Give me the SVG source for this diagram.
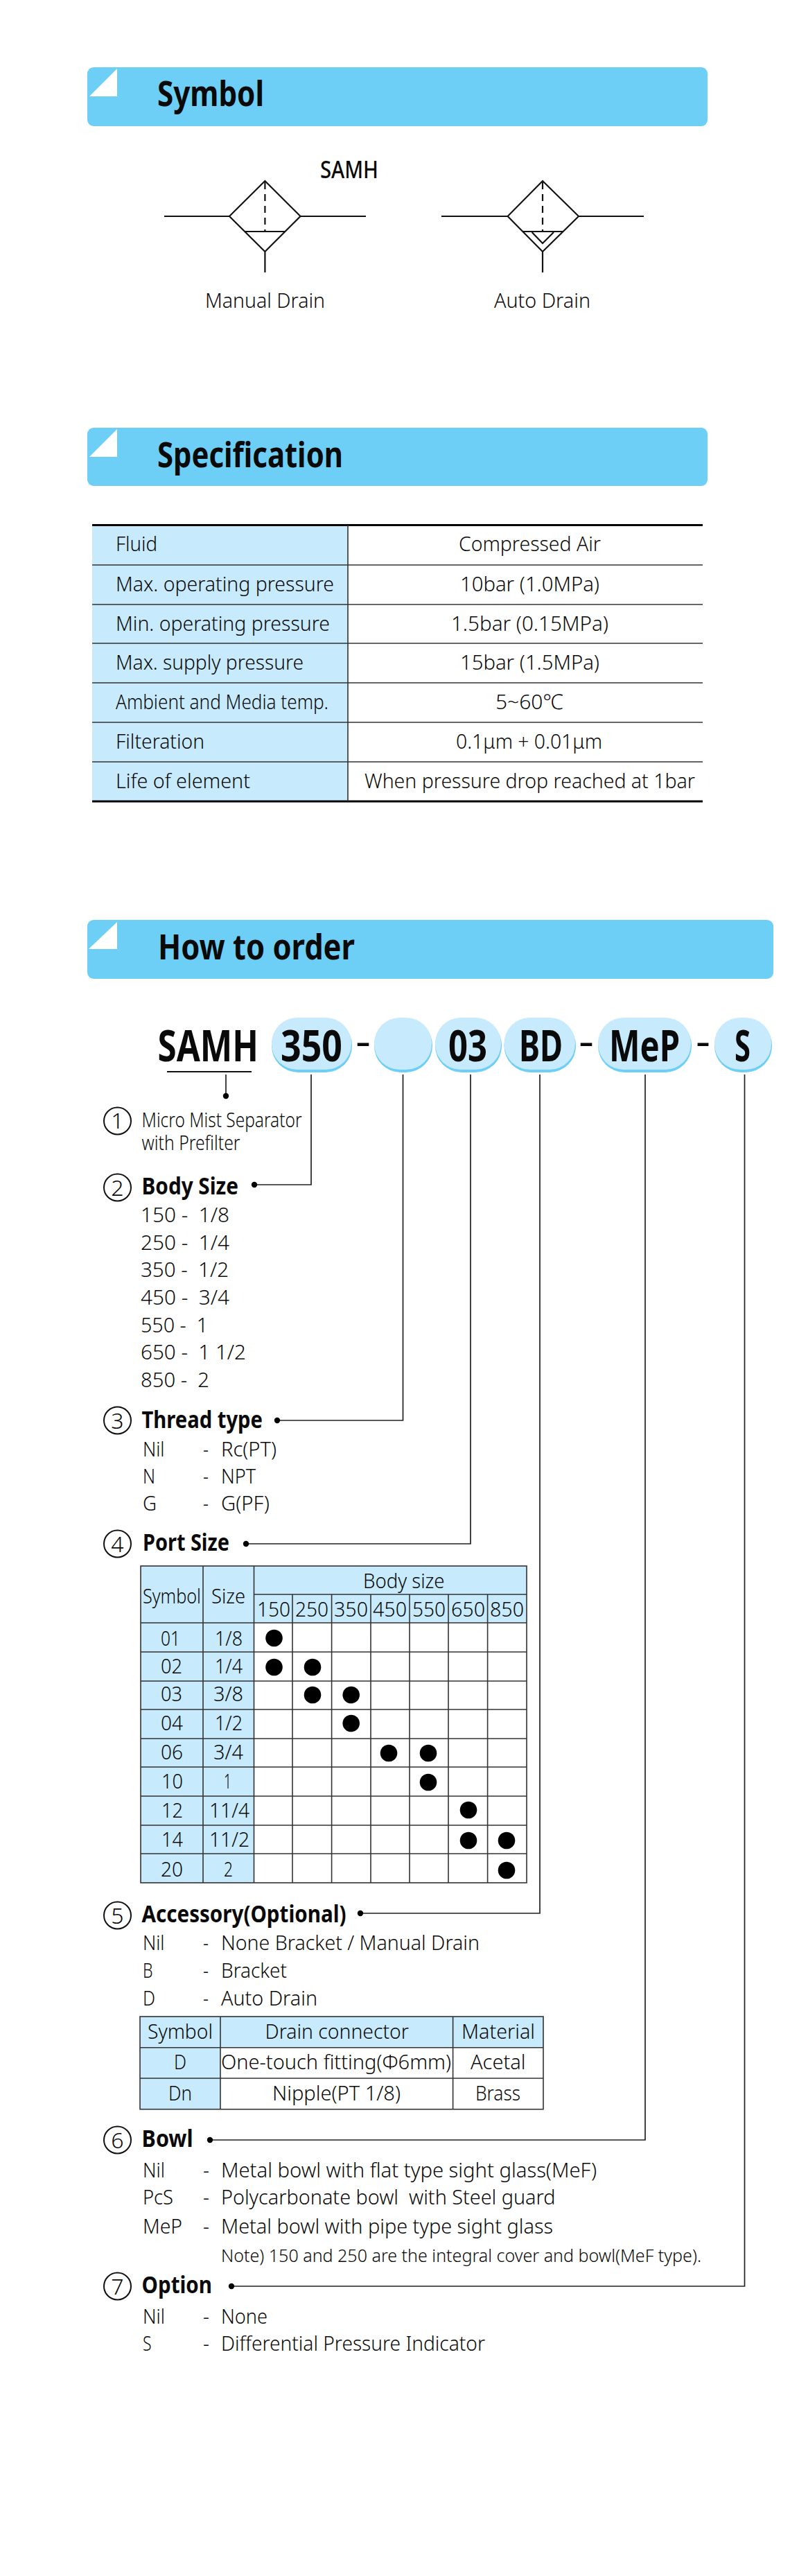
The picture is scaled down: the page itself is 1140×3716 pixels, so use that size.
<svg xmlns="http://www.w3.org/2000/svg" width="1140" height="3716" viewBox="0 0 1140 3716">
<style>
text{font-family:"Noto Sans","Open Sans","Liberation Sans",sans-serif;fill:#0a0a0a}
.b{font-size:30px;font-weight:300}
.s{font-size:26px;font-weight:300}
.h{font-size:34px;font-weight:700}
.t{font-size:51px;font-weight:700}
.c{font-size:62px;font-weight:700}
.d{font-size:59px;font-weight:400}
.n{font-size:30px;font-weight:300;text-anchor:middle}
.r{font-size:32px;font-weight:300;text-anchor:middle}
.band{fill:#6dcff6}
.fold{fill:#fff}
.sym{fill:none;stroke:#111;stroke-width:2.2}
.ring{fill:none;stroke:#111;stroke-width:2}
.conn{fill:none;stroke:#222;stroke-width:1.7}
.dot{fill:#000}
.lt{fill:#c7eafd}
.dk{fill:#6dcff6}
.grid{fill:none;stroke:#333;stroke-width:1.6}
.rule{stroke:#333;stroke-width:1.6}
</style>

<g id="header-symbol">
<rect class="band" x="126" y="97" width="895" height="85" rx="9"/>
<polygon class="fold" points="169,99 129,139 169,139"/>
<text class="t" x="227" y="153" textLength="154" lengthAdjust="spacingAndGlyphs">Symbol</text>
</g>
<g id="symbol-samh"><text x="462" y="257" font-size="34" font-weight="500" textLength="84" lengthAdjust="spacingAndGlyphs">SAMH</text></g>
<g id="symbol-manual">
<path class="sym" d="M237 312H331L382.4 261 433.5 312H528M331 312L382.4 363 433.5 312M354 334H412M382.4 363V393"/>
<path class="sym" d="M382.4 263V333" stroke-dasharray="10 7"/>
<text class="b" x="296" y="444" textLength="173" lengthAdjust="spacingAndGlyphs">Manual Drain</text>
</g>
<g id="symbol-auto">
<path class="sym" d="M637 312H732.6L783 261 835 312H929M732.6 312L783 363 835 312M754 334H812M783 363V393M767.6 335L783 351 799 335"/>
<path class="sym" d="M783 263V333" stroke-dasharray="10 7"/>
<text class="b" x="713" y="444" textLength="139" lengthAdjust="spacingAndGlyphs">Auto Drain</text>
</g>

<g id="header-specification">
<rect class="band" x="126" y="617" width="895" height="84" rx="9"/>
<polygon class="fold" points="169,619 129,659 169,659"/>
<text class="t" x="227" y="674" textLength="268" lengthAdjust="spacingAndGlyphs">Specification</text>
</g>
<g id="spec-table">
<rect class="lt" x="133" y="758" width="369" height="398"/>
<path d="M133 757.5H1014M133 1156H1014" stroke="#000" stroke-width="3"/>
<path class="rule" d="M133 815H1014M133 872H1014M133 928H1014M133 985H1014M133 1042H1014M133 1099H1014M502 758V1156"/>
<text class="b" x="167" y="795" textLength="60" lengthAdjust="spacingAndGlyphs">Fluid</text>
<text class="b" x="167" y="853" textLength="315" lengthAdjust="spacingAndGlyphs">Max. operating pressure</text>
<text class="b" x="167" y="910" textLength="309" lengthAdjust="spacingAndGlyphs">Min. operating pressure</text>
<text class="b" x="167" y="966" textLength="271" lengthAdjust="spacingAndGlyphs">Max. supply pressure</text>
<text class="b" x="167" y="1023" textLength="307" lengthAdjust="spacingAndGlyphs">Ambient and Media temp.</text>
<text class="b" x="167" y="1080" textLength="128" lengthAdjust="spacingAndGlyphs">Filteration</text>
<text class="b" x="167" y="1137" textLength="194" lengthAdjust="spacingAndGlyphs">Life of element</text>
<text class="b" x="662" y="795" textLength="205" lengthAdjust="spacingAndGlyphs">Compressed Air</text>
<text class="b" x="664" y="853" textLength="201" lengthAdjust="spacingAndGlyphs">10bar (1.0MPa)</text>
<text class="b" x="651" y="910" textLength="227" lengthAdjust="spacingAndGlyphs">1.5bar (0.15MPa)</text>
<text class="b" x="664" y="966" textLength="201" lengthAdjust="spacingAndGlyphs">15bar (1.5MPa)</text>
<text class="b" x="715" y="1023" textLength="98" lengthAdjust="spacingAndGlyphs">5~60℃</text>
<text class="b" x="658" y="1080" textLength="211" lengthAdjust="spacingAndGlyphs">0.1μm + 0.01μm</text>
<text class="b" x="526" y="1137" textLength="477" lengthAdjust="spacingAndGlyphs">When pressure drop reached at 1bar</text>
</g>

<g id="header-order">
<rect class="band" x="126" y="1327" width="990" height="85" rx="9"/>
<polygon class="fold" points="169,1330 128,1369 169,1369"/>
<text class="t" x="228" y="1384" textLength="284" lengthAdjust="spacingAndGlyphs">How to order</text>
</g>

<g id="connectors">
<path class="conn" d="M326 1550V1581"/>
<path class="conn" d="M449 1550V1709H367"/>
<path class="conn" d="M581.5 1550V2049H400"/>
<path class="conn" d="M679 1550V2227H355"/>
<path class="conn" d="M779 1550V2760H520"/>
<path class="conn" d="M931 1550V3087H303"/>
<path class="conn" d="M1074.5 1550V3298H334"/>
<circle class="dot" cx="326" cy="1581" r="4.2"/>
<circle class="dot" cx="367" cy="1709" r="4.2"/>
<circle class="dot" cx="400" cy="2049" r="4.2"/>
<circle class="dot" cx="355" cy="2227" r="4.2"/>
<circle class="dot" cx="520" cy="2760" r="4.2"/>
<circle class="dot" cx="303" cy="3087" r="4.2"/>
<circle class="dot" cx="334" cy="3298" r="4.2"/>
</g>

<g id="code-samh">
<text class="c" x="227.5" y="1531" textLength="145.5" lengthAdjust="spacingAndGlyphs">SAMH</text>
<path d="M241 1546H363" stroke="#111" stroke-width="2"/>
</g>
<g id="code-350">
<rect class="dk" x="392" y="1470" width="116" height="77" rx="38"/>
<rect class="lt" x="392" y="1468" width="115" height="75" rx="37"/>
<text class="c" x="405" y="1531" textLength="89" lengthAdjust="spacingAndGlyphs">350</text>
</g>
<g id="code-dash-1"><text class="d" x="513" y="1522" textLength="22" lengthAdjust="spacingAndGlyphs">-</text></g>
<g id="code-thread">
<rect class="dk" x="540" y="1470" width="84" height="77" rx="38"/>
<rect class="lt" x="540" y="1468" width="83" height="75" rx="37"/>
</g>
<g id="code-03">
<rect class="dk" x="628" y="1470" width="96" height="77" rx="38"/>
<rect class="lt" x="628" y="1468" width="95" height="75" rx="37"/>
<text class="c" x="647" y="1531" textLength="56" lengthAdjust="spacingAndGlyphs">03</text>
</g>
<g id="code-bd">
<rect class="dk" x="727.5" y="1470" width="103.5" height="77" rx="38"/>
<rect class="lt" x="727.5" y="1468" width="102.5" height="75" rx="37"/>
<text class="c" x="749" y="1531" textLength="63" lengthAdjust="spacingAndGlyphs">BD</text>
</g>
<g id="code-dash-2"><text class="d" x="835" y="1522" textLength="22" lengthAdjust="spacingAndGlyphs">-</text></g>
<g id="code-mep">
<rect class="dk" x="863" y="1470" width="135" height="77" rx="38"/>
<rect class="lt" x="863" y="1468" width="134" height="75" rx="37"/>
<text class="c" x="879" y="1531" textLength="102" lengthAdjust="spacingAndGlyphs">MeP</text>
</g>
<g id="code-dash-3"><text class="d" x="1004" y="1522" textLength="21" lengthAdjust="spacingAndGlyphs">-</text></g>
<g id="code-s">
<rect class="dk" x="1031" y="1470" width="83" height="77" rx="38"/>
<rect class="lt" x="1031" y="1468" width="82" height="75" rx="37"/>
<text class="c" x="1060" y="1531" textLength="23" lengthAdjust="spacingAndGlyphs">S</text>
</g>

<g id="item-1">
<circle class="ring" cx="169.5" cy="1617" r="19.5"/>
<text class="r" x="169.5" y="1628">1</text>
<text class="b" x="204.6" y="1626" textLength="231" lengthAdjust="spacingAndGlyphs">Micro Mist Separator</text>
<text class="b" x="204.6" y="1659" textLength="142" lengthAdjust="spacingAndGlyphs">with Prefilter</text>
</g>

<g id="item-2">
<circle class="ring" cx="169.5" cy="1713" r="19.5"/>
<text class="r" x="169.5" y="1724.5">2</text>
<text class="h" x="204.6" y="1723" textLength="139.4" lengthAdjust="spacingAndGlyphs">Body Size</text>
<text class="b" xml:space="preserve" x="203" y="1763" textLength="128" lengthAdjust="spacingAndGlyphs">150 -  1/8</text>
<text class="b" xml:space="preserve" x="203" y="1803" textLength="128" lengthAdjust="spacingAndGlyphs">250 -  1/4</text>
<text class="b" xml:space="preserve" x="203" y="1842" textLength="127" lengthAdjust="spacingAndGlyphs">350 -  1/2</text>
<text class="b" xml:space="preserve" x="203" y="1882" textLength="128" lengthAdjust="spacingAndGlyphs">450 -  3/4</text>
<text class="b" xml:space="preserve" x="203" y="1922" textLength="97" lengthAdjust="spacingAndGlyphs">550 -  1</text>
<text class="b" xml:space="preserve" x="203" y="1961" textLength="152" lengthAdjust="spacingAndGlyphs">650 -  1 1/2</text>
<text class="b" xml:space="preserve" x="203" y="2001" textLength="99" lengthAdjust="spacingAndGlyphs">850 -  2</text>
</g>

<g id="item-3">
<circle class="ring" cx="169.5" cy="2049" r="19.5"/>
<text class="r" x="169.5" y="2060.5">3</text>
<text class="h" x="204.5" y="2060" textLength="174.5" lengthAdjust="spacingAndGlyphs">Thread type</text>
<text class="b" x="206" y="2101" textLength="31.5" lengthAdjust="spacingAndGlyphs">Nil</text>
<text class="b" x="293" y="2101" textLength="8" lengthAdjust="spacingAndGlyphs">-</text>
<text class="b" x="319" y="2101" textLength="80" lengthAdjust="spacingAndGlyphs">Rc(PT)</text>
<text class="b" x="206" y="2140" textLength="18" lengthAdjust="spacingAndGlyphs">N</text>
<text class="b" x="293" y="2140" textLength="8" lengthAdjust="spacingAndGlyphs">-</text>
<text class="b" x="319" y="2140" textLength="50" lengthAdjust="spacingAndGlyphs">NPT</text>
<text class="b" x="206" y="2179" textLength="20" lengthAdjust="spacingAndGlyphs">G</text>
<text class="b" x="293" y="2179" textLength="8" lengthAdjust="spacingAndGlyphs">-</text>
<text class="b" x="319" y="2179" textLength="70" lengthAdjust="spacingAndGlyphs">G(PF)</text>
</g>

<g id="item-4">
<circle class="ring" cx="169.5" cy="2227" r="19.5"/>
<text class="r" x="169.5" y="2238.5">4</text>
<text class="h" x="206" y="2237" textLength="125" lengthAdjust="spacingAndGlyphs">Port Size</text>
</g>

<g id="port-table">
<rect class="lt" x="203" y="2259" width="163.5" height="457"/>
<rect class="lt" x="366.5" y="2259" width="393.5" height="82"/>
<rect class="grid" x="203" y="2259" width="557" height="457"/>
<path class="rule" d="M293 2259V2716M366.5 2259V2716M422 2300V2716M478.6 2300V2716M535 2300V2716M591 2300V2716M647 2300V2716M703.6 2300V2716"/>
<path class="rule" d="M366.5 2300H760M203 2341H760M203 2383H760M203 2425H760M203 2466H760M203 2508H760M203 2549H760M203 2591H760M203 2633H760M203 2674H760"/>
<text class="b" x="206" y="2313" textLength="84" lengthAdjust="spacingAndGlyphs">Symbol</text>
<text class="b" x="305" y="2313" textLength="49" lengthAdjust="spacingAndGlyphs">Size</text>
<text class="b" x="524" y="2291" textLength="117.5" lengthAdjust="spacingAndGlyphs">Body size</text>
<text class="b" x="371" y="2332" textLength="48" lengthAdjust="spacingAndGlyphs">150</text>
<text class="b" x="426" y="2332" textLength="48" lengthAdjust="spacingAndGlyphs">250</text>
<text class="b" x="482" y="2332" textLength="49" lengthAdjust="spacingAndGlyphs">350</text>
<text class="b" x="538" y="2332" textLength="49" lengthAdjust="spacingAndGlyphs">450</text>
<text class="b" x="595" y="2332" textLength="48" lengthAdjust="spacingAndGlyphs">550</text>
<text class="b" x="651" y="2332" textLength="49" lengthAdjust="spacingAndGlyphs">650</text>
<text class="b" x="707" y="2332" textLength="49" lengthAdjust="spacingAndGlyphs">850</text>
<text class="b" x="232" y="2374" textLength="28" lengthAdjust="spacingAndGlyphs">01</text><text class="b" x="310" y="2374" textLength="40" lengthAdjust="spacingAndGlyphs">1/8</text>
<text class="b" x="232" y="2414" textLength="31" lengthAdjust="spacingAndGlyphs">02</text><text class="b" x="310" y="2414" textLength="40" lengthAdjust="spacingAndGlyphs">1/4</text>
<text class="b" x="232" y="2454" textLength="31" lengthAdjust="spacingAndGlyphs">03</text><text class="b" x="308" y="2454" textLength="43" lengthAdjust="spacingAndGlyphs">3/8</text>
<text class="b" x="232" y="2496" textLength="32" lengthAdjust="spacingAndGlyphs">04</text><text class="b" x="310" y="2496" textLength="40" lengthAdjust="spacingAndGlyphs">1/2</text>
<text class="b" x="232" y="2538" textLength="32" lengthAdjust="spacingAndGlyphs">06</text><text class="b" x="308" y="2538" textLength="43" lengthAdjust="spacingAndGlyphs">3/4</text>
<text class="b" x="233" y="2580" textLength="31" lengthAdjust="spacingAndGlyphs">10</text><text class="b" x="323" y="2580" textLength="11" lengthAdjust="spacingAndGlyphs">1</text>
<text class="b" x="233" y="2622" textLength="31" lengthAdjust="spacingAndGlyphs">12</text><text class="b" x="302" y="2622" textLength="58" lengthAdjust="spacingAndGlyphs">11/4</text>
<text class="b" x="233" y="2664" textLength="31" lengthAdjust="spacingAndGlyphs">14</text><text class="b" x="302" y="2664" textLength="58" lengthAdjust="spacingAndGlyphs">11/2</text>
<text class="b" x="232" y="2707" textLength="32" lengthAdjust="spacingAndGlyphs">20</text><text class="b" x="323" y="2707" textLength="13" lengthAdjust="spacingAndGlyphs">2</text>
<circle class="dot" cx="395.5" cy="2363" r="12.3"/>
<circle class="dot" cx="395.5" cy="2405" r="12.3"/>
<circle class="dot" cx="451" cy="2405" r="12.3"/>
<circle class="dot" cx="451" cy="2445" r="12.3"/>
<circle class="dot" cx="506.7" cy="2445" r="12.3"/>
<circle class="dot" cx="506.7" cy="2486" r="12.3"/>
<circle class="dot" cx="561" cy="2529" r="12.3"/>
<circle class="dot" cx="618" cy="2529" r="12.3"/>
<circle class="dot" cx="618" cy="2571" r="12.3"/>
<circle class="dot" cx="676" cy="2611" r="12.3"/>
<circle class="dot" cx="676" cy="2655" r="12.3"/>
<circle class="dot" cx="731" cy="2655" r="12.3"/>
<circle class="dot" cx="731" cy="2698" r="12.3"/>
</g>

<g id="item-5">
<circle class="ring" cx="169.5" cy="2763" r="19.5"/>
<text class="r" x="169.5" y="2774.5">5</text>
<text class="h" x="204.5" y="2773" textLength="295" lengthAdjust="spacingAndGlyphs">Accessory(Optional)</text>
<text class="b" x="206" y="2813" textLength="31.5" lengthAdjust="spacingAndGlyphs">Nil</text>
<text class="b" x="293" y="2813" textLength="8" lengthAdjust="spacingAndGlyphs">-</text>
<text class="b" x="319" y="2813" textLength="373" lengthAdjust="spacingAndGlyphs">None Bracket / Manual Drain</text>
<text class="b" x="206" y="2853" textLength="14.5" lengthAdjust="spacingAndGlyphs">B</text>
<text class="b" x="293" y="2853" textLength="8" lengthAdjust="spacingAndGlyphs">-</text>
<text class="b" x="319" y="2853" textLength="95" lengthAdjust="spacingAndGlyphs">Bracket</text>
<text class="b" x="206" y="2893" textLength="18" lengthAdjust="spacingAndGlyphs">D</text>
<text class="b" x="293" y="2893" textLength="8" lengthAdjust="spacingAndGlyphs">-</text>
<text class="b" x="319" y="2893" textLength="139" lengthAdjust="spacingAndGlyphs">Auto Drain</text>
</g>

<g id="drain-table">
<rect class="lt" x="202" y="2909" width="116" height="133.7"/>
<rect class="lt" x="318" y="2909" width="466" height="44.7"/>
<rect class="grid" x="202" y="2909" width="582" height="133.7"/>
<path class="rule" d="M318 2909V3042.7M653.6 2909V3042.7M202 2953.7H784M202 2998H784"/>
<text class="b" x="213" y="2941" textLength="94" lengthAdjust="spacingAndGlyphs">Symbol</text>
<text class="b" x="382.6" y="2941" textLength="207.4" lengthAdjust="spacingAndGlyphs">Drain connector</text>
<text class="b" x="666" y="2941" textLength="106" lengthAdjust="spacingAndGlyphs">Material</text>
<text class="b" x="251" y="2985" textLength="18" lengthAdjust="spacingAndGlyphs">D</text>
<text class="b" x="319" y="2985" textLength="332" lengthAdjust="spacingAndGlyphs">One-touch fitting(Φ6mm)</text>
<text class="b" x="679" y="2985" textLength="79.5" lengthAdjust="spacingAndGlyphs">Acetal</text>
<text class="b" x="243" y="3030" textLength="34" lengthAdjust="spacingAndGlyphs">Dn</text>
<text class="b" x="393" y="3030" textLength="185" lengthAdjust="spacingAndGlyphs">Nipple(PT 1/8)</text>
<text class="b" x="686" y="3030" textLength="65" lengthAdjust="spacingAndGlyphs">Brass</text>
</g>

<g id="item-6">
<circle class="ring" cx="169.5" cy="3087" r="19.5"/>
<text class="r" x="169.5" y="3098.5">6</text>
<text class="h" x="204.6" y="3097" textLength="74" lengthAdjust="spacingAndGlyphs">Bowl</text>
<text class="b" x="206" y="3141" textLength="32" lengthAdjust="spacingAndGlyphs">Nil</text>
<text class="b" x="293" y="3141" textLength="9" lengthAdjust="spacingAndGlyphs">-</text>
<text class="b" x="319" y="3141" textLength="542" lengthAdjust="spacingAndGlyphs">Metal bowl with flat type sight glass(MeF)</text>
<text class="b" x="206" y="3180" textLength="44" lengthAdjust="spacingAndGlyphs">PcS</text>
<text class="b" x="293" y="3180" textLength="9" lengthAdjust="spacingAndGlyphs">-</text>
<text class="b" xml:space="preserve" x="319" y="3180" textLength="482.5" lengthAdjust="spacingAndGlyphs">Polycarbonate bowl  with Steel guard</text>
<text class="b" x="206" y="3222" textLength="57" lengthAdjust="spacingAndGlyphs">MeP</text>
<text class="b" x="293" y="3222" textLength="9" lengthAdjust="spacingAndGlyphs">-</text>
<text class="b" x="319" y="3222" textLength="479" lengthAdjust="spacingAndGlyphs">Metal bowl with pipe type sight glass</text>
<text class="s" x="319" y="3263" textLength="693" lengthAdjust="spacingAndGlyphs">Note) 150 and 250 are the integral cover and bowl(MeF type).</text>
</g>

<g id="item-7">
<circle class="ring" cx="169.5" cy="3298" r="19.5"/>
<text class="r" x="169.5" y="3309.5">7</text>
<text class="h" x="204.6" y="3308" textLength="101.4" lengthAdjust="spacingAndGlyphs">Option</text>
<text class="b" x="206" y="3352" textLength="32" lengthAdjust="spacingAndGlyphs">Nil</text>
<text class="b" x="293" y="3352" textLength="9" lengthAdjust="spacingAndGlyphs">-</text>
<text class="b" x="319" y="3352" textLength="67" lengthAdjust="spacingAndGlyphs">None</text>
<text class="b" x="206" y="3391" textLength="12.6" lengthAdjust="spacingAndGlyphs">S</text>
<text class="b" x="293" y="3391" textLength="9" lengthAdjust="spacingAndGlyphs">-</text>
<text class="b" x="319" y="3391" textLength="381" lengthAdjust="spacingAndGlyphs">Differential Pressure Indicator</text>
</g>
</svg>
